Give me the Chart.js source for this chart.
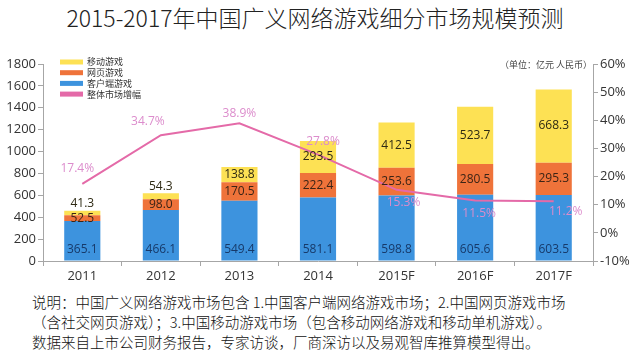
<!DOCTYPE html>
<html>
<head>
<meta charset="utf-8">
<script src="https://cdn.jsdelivr.net/npm/chart.js@4"></script>
<style>
  body { margin:0; width:630px; height:362px; background:#fff; position:relative; overflow:hidden;
         font-family:"Noto Sans CJK SC","Noto Sans",sans-serif; }
  #title { position:absolute; top:3px; left:0; width:630px; text-align:center; font-size:23px; line-height:28px; color:#222; font-weight:300; }
  #unit { position:absolute; top:58px; left:500px; font-size:9px; line-height:14px; color:#444; white-space:nowrap; }
  #wrap { position:absolute; top:44px; left:0; width:630px; height:240px; }
  #note { position:absolute; top:292px; left:32px; font-size:14.5px; line-height:20px; color:#111; white-space:nowrap; font-weight:300; }
</style>
</head>
<body>
<div id="title">2015-2017年中国广义网络游戏细分市场规模预测</div>
<div id="wrap"><canvas id="c"></canvas></div>
<div id="unit">（单位：亿元 人民币）</div>
<div id="note">说明：中国广义网络游戏市场包含 1.中国客户端网络游戏市场；2.中国网页游戏市场<br>（含社交网页游戏）；3.中国移动游戏市场（包含移动网络游戏和移动单机游戏）。<br>数据来自上市公司财务报告，专家访谈，厂商深访以及易观智库推算模型得出。</div>
<script>
const years = ['2011','2012','2013','2014','2015F','2016F','2017F'];
const clientGames = [365.1, 466.1, 549.4, 581.1, 598.8, 605.6, 603.5];
const webGames = [52.5, 98.0, 170.5, 222.4, 253.6, 280.5, 295.3];
const mobileGames = [41.3, 54.3, 138.8, 293.5, 412.5, 523.7, 668.3];
const growth = [17.4, 34.7, 38.9, 27.8, 15.3, 11.5, 11.2];
const leftTicks = [0, 200, 400, 600, 800, 1000, 1200, 1400, 1600, 1800];
const rightTicks = [-10, 0, 10, 20, 30, 40, 50, 60];

// label nudges for the growth line [dx, dy]
const growthLabelOffsets = [[-5,-15],[-13,-14],[0,-10],[5,-13],[7,13],[4,13],[12,10]];

const BLUE = '#3d93de', ORANGE = '#ef733a', YELLOW = '#fde154', PINK = '#e46aa8';
const numFont = '12px "Open Sans", "Noto Sans", sans-serif';

const labelPlugin = {
  id: 'labels',
  afterDatasetsDraw(chart) {
    const ctx = chart.ctx;
    ctx.save();
    ctx.font = numFont;
    ctx.textAlign = 'center';
    ctx.textBaseline = 'middle';
    const colors = ['#173a6a', '#3b2416', '#2e2a14'];
    [0,1,2].forEach(di => {
      const meta = chart.getDatasetMeta(di);
      const vals = chart.data.datasets[di].data;
      meta.data.forEach((el, j) => {
        const top = el.y, base = el.base, h = base - top;
        let y;
        if (di === 0) y = base - 11;
        else if (di === 1) y = (top + base) / 2;
        else y = h > 12 ? (top + base) / 2 : top - 7;
        ctx.fillStyle = colors[di];
        ctx.fillText(vals[j].toFixed(1), el.x, y);
      });
    });
    const lm = chart.getDatasetMeta(3);
    ctx.fillStyle = '#dc8ccc';
    lm.data.forEach((pt, j) => {
      const o = growthLabelOffsets[j];
      ctx.fillText(growth[j].toFixed(1) + '%', pt.x + o[0], pt.y + o[1]);
    });

    // legend, top-left inside the plot
    ctx.font = '9px "Noto Sans CJK SC", sans-serif';
    ctx.textAlign = 'left';
    const order = [2,1,0,3];
    const x0 = chart.chartArea.left + 17, y0 = chart.chartArea.top - 2;
    order.forEach((di, k) => {
      const ds = chart.data.datasets[di];
      const y = y0 + k * 10.7;
      ctx.fillStyle = di === 3 ? ds.borderColor : ds.backgroundColor;
      ctx.fillRect(x0, y - 2.5, 23, 5);
      ctx.fillStyle = '#333';
      ctx.fillText(ds.label, x0 + 27, y);
    });
    ctx.restore();
  }
};

const tickFont = { family: '"Open Sans", "Noto Sans", sans-serif', size: 13 };
const axisGray = '#a6a6a6';

new Chart(document.getElementById('c'), {
  type: 'bar',
  data: {
    labels: years,
    datasets: [
      { label: '客户端游戏', data: clientGames, backgroundColor: BLUE, stack: 's', order: 1 },
      { label: '网页游戏', data: webGames, backgroundColor: ORANGE, stack: 's', order: 1 },
      { label: '移动游戏', data: mobileGames, backgroundColor: YELLOW, stack: 's', order: 1 },
      { type: 'line', label: '整体市场增幅', data: growth, yAxisID: 'y1', borderColor: PINK,
        backgroundColor: PINK, borderWidth: 2, pointRadius: 0, tension: 0, order: 0 }
    ]
  },
  options: {
    responsive: true,
    maintainAspectRatio: false,
    animation: false,
    layout: { padding: { top: 20, left: 0, right: 0, bottom: 0 } },
    barPercentage: 0.46,
    categoryPercentage: 1,
    plugins: { legend: { display: false }, tooltip: { enabled: false } },
    scales: {
      x: {
        stacked: true,
        grid: { drawOnChartArea: false, drawTicks: true, tickLength: 5, color: axisGray, offset: true },
        border: { color: axisGray },
        ticks: { color: '#333', font: tickFont, padding: 2 },
        afterFit(s) { s.height = 23; }
      },
      y: {
        stacked: true, min: 0, max: 1800, position: 'left',
        afterBuildTicks(s) { s.ticks = leftTicks.map(v => ({ value: v })); },
        grid: { drawOnChartArea: false, drawTicks: true, tickLength: 5, color: axisGray },
        border: { color: axisGray },
        ticks: { color: '#333', font: tickFont, padding: 2, callback: v => String(v) },
        afterFit(s) { s.width = 43; }
      },
      y1: {
        min: -10, max: 60, position: 'right',
        afterBuildTicks(s) { s.ticks = rightTicks.map(v => ({ value: v })); },
        grid: { drawOnChartArea: false, drawTicks: true, tickLength: 5, color: axisGray },
        border: { color: axisGray },
        ticks: { color: '#333', font: tickFont, padding: 2, callback: v => v + '%' },
        afterFit(s) { s.width = 37; }
      }
    }
  },
  plugins: [labelPlugin]
});
</script>
</body>
</html>
